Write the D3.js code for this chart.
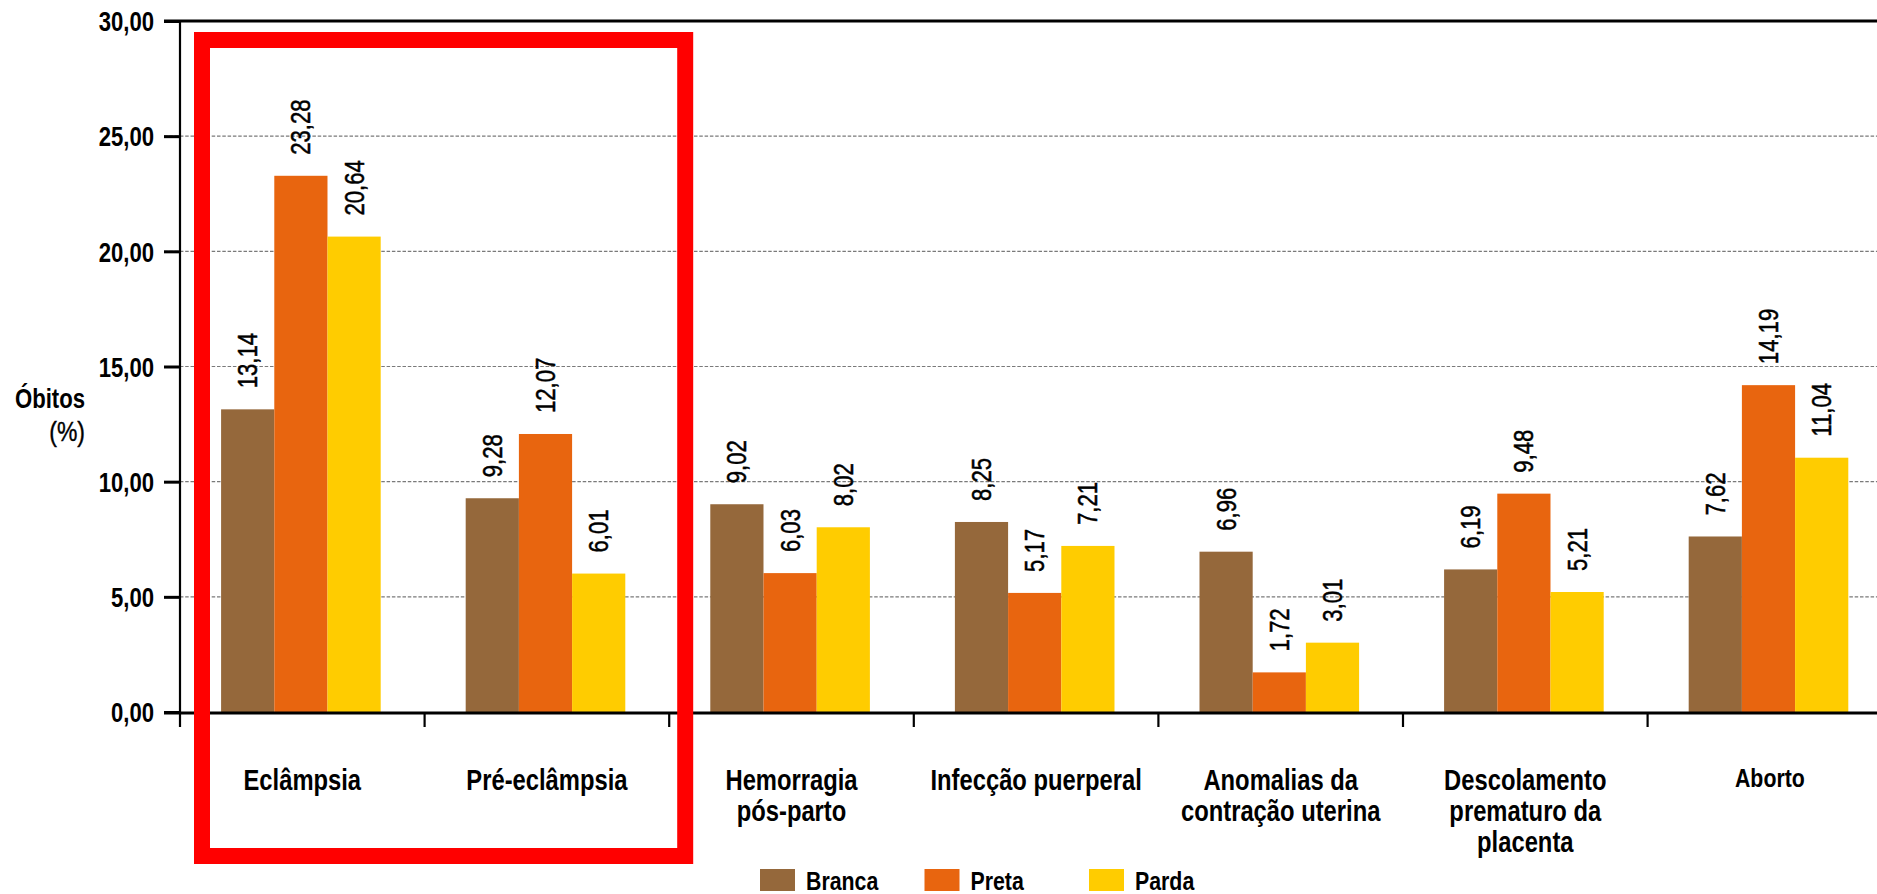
<!DOCTYPE html>
<html><head><meta charset="utf-8">
<script src="https://cdn.jsdelivr.net/npm/d3@7"></script>
<style>
body{margin:0;background:#fff;overflow:hidden}
svg{display:block}
text{font-family:'Liberation Sans',Arial,sans-serif;fill:#000}
</style>
</head><body>
<svg id="c" width="1877" height="894"></svg>
<script>
// ---- data ----
const categories = ["Eclâmpsia","Pré-eclâmpsia","Hemorragia pós-parto","Infecção puerperal","Anomalias da contração uterina","Descolamento prematuro da placenta","Aborto"];
const categoryLines = [["Eclâmpsia"],["Pré-eclâmpsia"],["Hemorragia","pós-parto"],["Infecção puerperal"],["Anomalias da","contração uterina"],["Descolamento","prematuro da","placenta"],["Aborto"]];
const series = ["Branca","Preta","Parda"];
const branca = [13.14, 9.28, 9.02, 8.25, 6.96, 6.19, 7.62];
const preta  = [23.28, 12.07, 6.03, 5.17, 1.72, 9.48, 14.19];
const parda  = [20.64, 6.01, 8.02, 7.21, 3.01, 5.21, 11.04];
const yTicks = [0, 5, 10, 15, 20, 25, 30];
const highlighted = ["Eclâmpsia","Pré-eclâmpsia"];
const yTitle = ["Óbitos","(%)"];

const colors = {Branca:"#95683B", Preta:"#E8650F", Parda:"#FFCC00"};
const values = {Branca:branca, Preta:preta, Parda:parda};
const NARROW = 0.82; // horizontal compression to emulate a condensed face

const locale = d3.formatLocale({decimal:",", thousands:".", grouping:[3], currency:["R$",""]});
const fmt = locale.format(".2f");

const svg = d3.select("#c");
const W = 1877;
const left = 180, bandW = 244.6;

const x = d3.scaleBand().domain(categories).range([left, left + categories.length*bandW]).padding(0);
const bw = x.bandwidth();
const xs = d3.scaleBand().domain(series).range([bw*0.168, bw*0.168 + bw*0.6525]).padding(0);
const y = d3.scaleLinear().domain([0, 30]).range([712, 21]);

// gridlines
svg.append("g").selectAll("line").data(yTicks.filter(v => v > 0 && v < 30)).join("line")
  .attr("x1", left - 16).attr("x2", W)
  .attr("y1", d => y(d)).attr("y2", d => y(d))
  .attr("stroke", "#7a7a7a").attr("stroke-width", 1.2).attr("stroke-dasharray", "3.5,1.8");

// top line
svg.append("line").attr("x1", left - 16).attr("x2", W).attr("y1", y(30)).attr("y2", y(30))
  .attr("stroke", "#000").attr("stroke-width", 3);

// bars
const groups = svg.append("g").selectAll("g").data(categories).join("g")
  .attr("transform", d => `translate(${x(d)},0)`);
groups.selectAll("rect").data((c, i) => series.map(s => ({s, v: values[s][i]}))).join("rect")
  .attr("x", d => xs(d.s)).attr("width", xs.bandwidth())
  .attr("y", d => y(d.v)).attr("height", d => y(0) - y(d.v))
  .attr("fill", d => colors[d.s]);

// value labels
groups.selectAll("text").data((c, i) => series.map(s => ({s, v: values[s][i]}))).join("text")
  .attr("transform", d => `translate(${xs(d.s) + xs.bandwidth()/2},${y(d.v) - 21}) rotate(-90) scale(${NARROW},1)`)
  .attr("dy", "0.35em")
  .attr("text-anchor", "start")
  .attr("stroke", "#000").attr("stroke-width", 0.5)
  .style("font-size", "27px")
  .text(d => fmt(d.v));

// x axis line
svg.append("line").attr("x1", left - 16).attr("x2", W).attr("y1", y(0) + 1).attr("y2", y(0) + 1)
  .attr("stroke", "#000").attr("stroke-width", 3);

// category boundary ticks
svg.append("g").selectAll("line").data(categories.slice(1)).join("line")
  .attr("x1", d => x(d)).attr("x2", d => x(d))
  .attr("y1", y(0)).attr("y2", y(0) + 15)
  .attr("stroke", "#000").attr("stroke-width", 2.2);

// y axis
const yAxis = d3.axisLeft(y).tickValues(yTicks).tickFormat(fmt).tickSize(16).tickPadding(10).tickSizeOuter(0);
const gy = svg.append("g").attr("transform", `translate(${left},0)`).call(yAxis);
gy.select(".domain").remove();
gy.selectAll(".tick line").attr("stroke", "#000").attr("stroke-width", 3);
gy.selectAll(".tick text")
  .attr("x", 0).attr("transform", `translate(-26,0) scale(${NARROW},1)`)
  .style("font-size", "27px").style("font-weight", "bold")
  .attr("font-family", null).attr("fill", "#000").attr("dy", "0.36em");
svg.append("line").attr("x1", left).attr("x2", left).attr("y1", y(30) - 1).attr("y2", y(0) + 15)
  .attr("stroke", "#000").attr("stroke-width", 2.2);

// y title
svg.append("text").attr("transform", `translate(85,408) scale(${NARROW},1)`).attr("text-anchor", "end")
  .style("font-size", "27px").style("font-weight", "bold").text(yTitle[0]);
svg.append("text").attr("transform", `translate(85,441) scale(${NARROW},1)`).attr("text-anchor", "end")
  .attr("stroke", "#000").attr("stroke-width", 0.4)
  .style("font-size", "28px").text(yTitle[1]);

// category labels
const cl = svg.append("g").selectAll("text").data(categories).join("text")
  .attr("text-anchor", "middle")
  .attr("transform", d => `translate(${x(d) + bw/2},${d === "Aborto" ? 787 : 790}) scale(${NARROW},1)`)
  .style("font-size", d => d === "Aborto" ? "26px" : "29px")
  .style("font-weight", "bold");
cl.each(function(d, i) {
  const t = d3.select(this);
  categoryLines[i].forEach((ln, j) => {
    t.append("tspan").attr("x", 0).attr("dy", j === 0 ? 0 : 31).text(ln);
  });
});

// highlight box
const hx0 = x(highlighted[0]) + 22;
const hx1 = x(highlighted[highlighted.length-1]) + bw + 16;
svg.append("rect")
  .attr("x", hx0).attr("y", y(30) + 19)
  .attr("width", hx1 - hx0).attr("height", 856 - (y(30) + 19))
  .attr("fill", "none").attr("stroke", "#FF0000").attr("stroke-width", 16);

// legend
const lg = svg.append("g").selectAll("g").data(series).join("g")
  .attr("transform", (d, i) => `translate(${760 + i*164.5},869)`);
lg.append("rect").attr("width", 35).attr("height", 22).attr("fill", d => colors[d]);
lg.append("text").attr("transform", `translate(46,21) scale(${NARROW},1)`)
  .style("font-size", "26px").style("font-weight", "bold").text(d => d);
</script>
</body></html>
